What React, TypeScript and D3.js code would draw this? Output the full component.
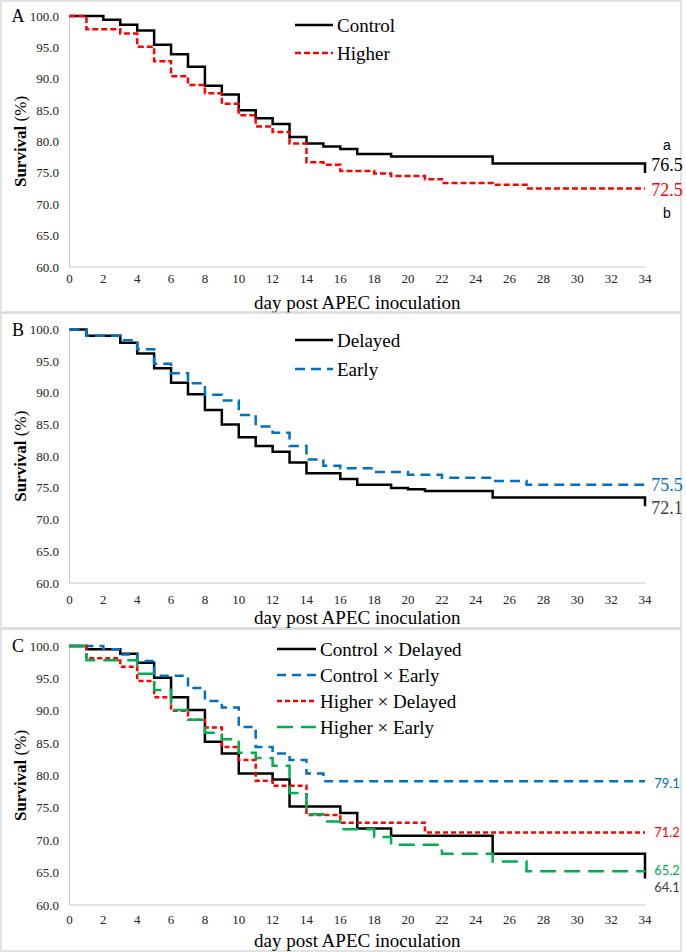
import React from "react";
import * as d3 from "d3";

// ---------- DATA ----------
const xTicks = [0, 2, 4, 6, 8, 10, 12, 14, 16, 18, 20, 22, 24, 26, 28, 30, 32, 34];
const yTicks = [60, 65, 70, 75, 80, 85, 90, 95, 100];

// Panel A
const controlDays = [0, 2, 3, 4, 5, 6, 7, 8, 9, 10, 11, 12, 13, 14, 15, 16, 17, 19, 25, 34];
const controlVals = [100, 99.4, 98.6, 97.7, 95.4, 93.9, 91.9, 88.9, 87.5, 85.0, 83.7, 82.8, 80.7, 79.7, 79.2, 78.8, 78.0, 77.6, 76.5, 75.0];
const higherDays = [0, 1, 3, 4, 5, 6, 7, 8, 9, 10, 11, 12, 13, 14, 15, 16, 18, 19, 21, 22, 25, 27, 34];
const higherVals = [100, 97.9, 97.2, 95.1, 92.8, 90.4, 89.0, 87.7, 86.0, 84.2, 82.4, 81.5, 79.7, 76.7, 76.3, 75.3, 74.9, 74.5, 74.0, 73.4, 73.1, 72.5, 72.5];

// Panel B
const delayedDays = [0, 1, 3, 4, 5, 6, 7, 8, 9, 10, 11, 12, 13, 14, 16, 17, 19, 20, 21, 25, 34];
const delayedVals = [100, 99.0, 97.9, 96.2, 93.9, 91.6, 89.8, 87.3, 85.0, 83.0, 81.6, 80.7, 79.0, 77.3, 76.4, 75.5, 75.0, 74.8, 74.5, 73.5, 72.1];
const earlyDays = [0, 1, 3, 4, 5, 6, 7, 8, 9, 10, 11, 12, 13, 14, 15, 16, 18, 20, 22, 25, 27, 34];
const earlyVals = [100, 99.0, 98.3, 96.9, 94.6, 93.1, 91.5, 89.7, 88.8, 86.5, 84.7, 83.7, 81.6, 79.5, 78.5, 78.1, 77.5, 77.1, 76.6, 76.1, 75.5, 75.5];

// Panel C
const cdDays = [0, 1, 3, 4, 5, 6, 7, 8, 9, 10, 12, 13, 16, 17, 19, 25, 34];
const cdVals = [100, 99.5, 98.8, 97.4, 95.1, 92.1, 90.1, 85.2, 83.4, 80.3, 79.4, 75.2, 74.2, 71.8, 70.7, 67.9, 64.1];
const ceDays = [0, 2, 3, 4, 5, 7, 8, 9, 10, 11, 12, 13, 14, 15, 34];
const ceVals = [100, 99.5, 98.7, 97.7, 95.4, 93.5, 91.5, 90.5, 87.5, 84.4, 83.4, 82.4, 80.3, 79.1, 79.1];
const hdDays = [0, 1, 3, 4, 5, 6, 7, 8, 9, 10, 11, 12, 14, 16, 21, 34];
const hdVals = [100, 98.1, 96.8, 94.6, 92.1, 90.0, 88.6, 87.4, 84.4, 82.4, 79.2, 78.4, 73.9, 72.7, 71.2, 71.2];
const heDays = [0, 1, 4, 5, 6, 7, 8, 9, 10, 11, 12, 13, 14, 15, 16, 18, 19, 22, 25, 27, 34];
const heVals = [100, 97.8, 95.7, 93.2, 90.1, 88.6, 86.6, 85.6, 83.5, 82.7, 81.5, 77.3, 74.0, 72.9, 71.7, 70.5, 69.3, 67.9, 66.7, 65.2, 65.2];

const BLACK = "#000000";
const RED = "#ff0000";
const BLUE = "#0070c0";
const GREEN = "#00b050";

const serif = "Liberation Serif, DejaVu Serif, serif";
const sans = "Liberation Sans, Arial, sans-serif";
const calibri = "Lato, Open Sans, sans-serif";

type Series = { name: string; days: number[]; vals: number[]; color: string; dash?: string };
type EndLabel = { text: string; y: number; color: string; font: string; size: number };

type PanelProps = {
  letter: string;
  top: number;
  bottom: number;
  y100: number;
  y60: number;
  xLabelY: number;
  titleY: number;
  series: Series[];
  legendX1: number;
  legendX2: number;
  legendYs: number[];
  endLabels: EndLabel[];
};

const X0 = 69.5;
const X1 = 645;

function Panel(p: PanelProps) {
  const x = d3.scaleLinear().domain([0, 34]).range([X0, X1]);
  const y = d3.scaleLinear().domain([60, 100]).range([p.y60, p.y100]);
  const line = d3
    .line<[number, number]>()
    .x((d) => x(d[0]))
    .y((d) => y(d[1]))
    .curve(d3.curveStepAfter);
  const sf = { fontFamily: serif };
  return (
    <g>
      <rect x={1} y={p.top} width={680} height={p.bottom - p.top} fill="#fff" stroke="#d9d9d9" strokeWidth={1.5} />
      <line x1={X0} x2={X0} y1={p.y100} y2={p.y60} stroke="#c8c8c8" strokeWidth={1} />
      <line x1={X0} x2={X1} y1={p.y60} y2={p.y60} stroke="#c8c8c8" strokeWidth={1} />
      {yTicks.map((t) => (
        <text key={t} x={59} y={y(t)} dy="0.35em" textAnchor="end" style={sf} fontSize={13} fill="#222">
          {t.toFixed(1)}
        </text>
      ))}
      {xTicks.map((t) => (
        <text key={t} x={x(t)} y={p.xLabelY} dy="0.35em" textAnchor="middle" style={sf} fontSize={13} fill="#222">
          {t}
        </text>
      ))}
      <text x={18} y={p.y100} dy="0.35em" textAnchor="middle" style={sf} fontSize={18} fill="#000">
        {p.letter}
      </text>
      <text
        transform={`translate(20,${(p.y100 + p.y60) / 2}) rotate(-90)`}
        dy="0.35em"
        textAnchor="middle"
        style={sf}
        fontSize={17}
        fill="#000"
      >
        <tspan fontWeight="bold">Survival</tspan>
        <tspan> (%)</tspan>
      </text>
      <text x={(X0 + X1) / 2} y={p.titleY} dy="0.35em" textAnchor="middle" style={sf} fontSize={19} fill="#000">
        day post APEC inoculation
      </text>
      {p.series.map((s) => (
        <path
          key={s.name}
          d={line(s.days.map((d, i) => [d, s.vals[i]] as [number, number])) || ""}
          fill="none"
          stroke={s.color}
          strokeWidth={2.5}
          strokeDasharray={s.dash}
        />
      ))}
      {p.series.map((s, i) => (
        <g key={"lg" + s.name}>
          <line x1={p.legendX1} x2={p.legendX2} y1={p.legendYs[i]} y2={p.legendYs[i]} stroke={s.color} strokeWidth={2.5} strokeDasharray={s.dash} />
          <text x={p.legendX2 + 4} y={p.legendYs[i]} dy="0.35em" style={sf} fontSize={19} fill="#000">
            {s.name}
          </text>
        </g>
      ))}
      {p.endLabels.map((l) => (
        <text key={l.text} x={667} y={l.y} dy="0.35em" textAnchor="middle" style={{ fontFamily: l.font }} fontSize={l.size} fill={l.color}>
          {l.text}
        </text>
      ))}
    </g>
  );
}

export default function App() {
  return (
    <div style={{ position: "absolute", left: 0, top: 0 }}>
      <svg width={686} height={952} style={{ display: "block", background: "#fff" }}>
        <Panel
          letter="A"
          top={1}
          bottom={312}
          y100={16}
          y60={267}
          xLabelY={278}
          titleY={302}
          series={[
            { name: "Control", days: controlDays, vals: controlVals, color: BLACK },
            { name: "Higher", days: higherDays, vals: higherVals, color: RED, dash: "6,3" },
          ]}
          legendX1={295}
          legendX2={333}
          legendYs={[25, 53]}
          endLabels={[
            { text: "a", y: 145, color: "#000", font: sans, size: 14 },
            { text: "76.5", y: 165, color: "#000", font: serif, size: 18 },
            { text: "72.5", y: 190, color: RED, font: serif, size: 18 },
            { text: "b", y: 213, color: "#000", font: sans, size: 14 },
          ]}
        />
        <Panel
          letter="B"
          top={313}
          bottom={628}
          y100={329.5}
          y60={583}
          xLabelY={599}
          titleY={617}
          series={[
            { name: "Delayed", days: delayedDays, vals: delayedVals, color: BLACK },
            { name: "Early", days: earlyDays, vals: earlyVals, color: BLUE, dash: "10,6" },
          ]}
          legendX1={295}
          legendX2={333}
          legendYs={[340, 369]}
          endLabels={[
            { text: "75.5", y: 485, color: BLUE, font: serif, size: 18 },
            { text: "72.1", y: 508, color: "#404040", font: serif, size: 18 },
          ]}
        />
        <Panel
          letter="C"
          top={629}
          bottom={951}
          y100={646}
          y60={905}
          xLabelY={919}
          titleY={940}
          series={[
            { name: "Control × Delayed", days: cdDays, vals: cdVals, color: BLACK },
            { name: "Control × Early", days: ceDays, vals: ceVals, color: BLUE, dash: "9,6" },
            { name: "Higher × Delayed", days: hdDays, vals: hdVals, color: RED, dash: "5,3" },
            { name: "Higher × Early", days: heDays, vals: heVals, color: GREEN, dash: "16,8" },
          ]}
          legendX1={277}
          legendX2={316}
          legendYs={[649, 675, 701, 727]}
          endLabels={[
            { text: "79.1", y: 783, color: BLUE, font: calibri, size: 13 },
            { text: "71.2", y: 832, color: RED, font: calibri, size: 13 },
            { text: "65.2", y: 870, color: GREEN, font: calibri, size: 13 },
            { text: "64.1", y: 887, color: "#404040", font: calibri, size: 13 },
          ]}
        />
      </svg>
    </div>
  );
}
